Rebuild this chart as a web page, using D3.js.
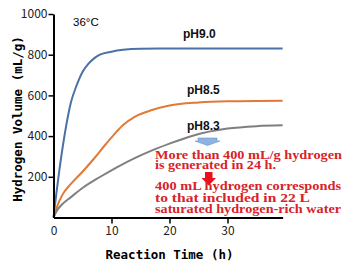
<!DOCTYPE html>
<html>
<head>
<meta charset="utf-8">
<script src="https://cdn.jsdelivr.net/npm/d3@7"></script>
<style>
  body { margin: 0; background: #fff; }
  svg { display: block; }
</style>
</head>
<body>
<script>
//hydrogen volume vs reaction time, three pH series

//pH9.0 series (time in h, volume in mL/g)
var t90 = [0, 0.5, 1, 2, 3, 4, 5, 6, 7, 8, 10, 12, 15, 20, 39.5];
var v90 = [0, 120, 230, 420, 565, 650, 715, 755, 782, 800, 815, 824, 829, 830, 830];

//pH8.5 series
var t85 = [0, 0.5, 1.5, 3, 5, 7, 9, 10.5, 12, 14, 17, 20, 25, 30, 39.5];
var v85 = [0, 45, 110, 165, 225, 290, 360, 410, 455, 495, 528, 550, 565, 571, 574];

//pH8.3 series
var t83 = [0, 0.5, 1.5, 3, 5, 8, 11, 14, 17, 20, 24, 30, 35, 39.5];
var v83 = [0, 30, 65, 100, 145, 199, 248, 292, 330, 363, 402, 437, 449, 453];

var seriesNames = ["pH9.0", "pH8.5", "pH8.3"];
var seriesColors = ["#4a72a6", "#e07a36", "#7f7f7f"];

var xTicks = [0, 10, 20, 30];
var yTicks = [200, 400, 600, 800, 1000];

var noteLines1 = ["More than 400 mL/g hydrogen", "is generated in 24 h."];
var noteLines2 = ["400 mL hydrogen corresponds", "to that included in 22 L", "saturated hydrogen-rich water"];

window.onload = function(){

    var w = 354, h = 272;

    var svg = d3.select("body")
        .append("svg")
        .attr("width", w)
        .attr("height", h)
        .style("background-color", "#fff");

    //scales
    var x = d3.scaleLinear()
        .domain([0, 39.5])
        .range([53.5, 282.6]);

    var y = d3.scaleLinear()
        .domain([0, 1000])
        .range([217.5, 14]);

    //build series table
    var series = [
        { name: seriesNames[0], color: seriesColors[0], pts: d3.zip(t90, v90) },
        { name: seriesNames[1], color: seriesColors[1], pts: d3.zip(t85, v85) },
        { name: seriesNames[2], color: seriesColors[2], pts: d3.zip(t83, v83) }
    ];

    var line = d3.line()
        .x(function(d){ return x(d[0]); })
        .y(function(d){ return y(d[1]); })
        .curve(d3.curveMonotoneX);

    svg.selectAll(".curve")
        .data(series)
        .enter()
        .append("path")
        .attr("class", "curve")
        .attr("d", function(d){ return line(d.pts); })
        .style("fill", "none")
        .style("stroke", function(d){ return d.color; })
        .style("stroke-width", 2);

    //axes
    var xAxis = d3.axisBottom(x)
        .tickValues(xTicks)
        .tickFormat(d3.format("d"))
        .tickSize(6)
        .tickSizeOuter(0)
        .tickPadding(3);

    var gx = svg.append("g")
        .attr("transform", "translate(0," + y(0) + ")")
        .call(xAxis);

    var yAxis = d3.axisLeft(y)
        .tickValues(yTicks)
        .tickFormat(d3.format("d"))
        .tickSize(5)
        .tickSizeOuter(0)
        .tickPadding(1);

    var gy = svg.append("g")
        .attr("transform", "translate(" + x(0) + ",0)")
        .call(yAxis);

    [gx, gy].forEach(function(g){
        g.select(".domain").style("stroke", "#000").style("stroke-width", 2);
        g.selectAll(".tick line").style("stroke", "#000").style("stroke-width", 1.5);
        g.selectAll(".tick text")
            .style("font-family", "'Noto Sans CJK JP', 'DejaVu Sans', sans-serif")
            .style("font-size", "12px")
            .style("fill", "#222");
    });
    //hide the 0 tick mark (covered by y axis)
    gx.selectAll(".tick line").filter(function(d){ return d === 0; }).remove();

    //axis titles
    svg.append("text")
        .attr("x", 169.5)
        .attr("y", 259)
        .attr("text-anchor", "middle")
        .style("font-family", "'DejaVu Sans Mono', monospace")
        .style("font-weight", "bold")
        .style("font-size", "12.5px")
        .text("Reaction Time (h)");

    svg.append("text")
        .attr("transform", "translate(22,119) rotate(-90)")
        .attr("text-anchor", "middle")
        .style("font-family", "'DejaVu Sans Mono', monospace")
        .style("font-weight", "bold")
        .style("font-size", "12.5px")
        .text("Hydrogen Volume (mL/g)");

    //temperature label
    svg.append("text")
        .attr("x", 73)
        .attr("y", 26)
        .style("font-family", "'Liberation Sans', Arial, sans-serif")
        .style("font-size", "11.5px")
        .text("36\u00B0C");

    //series labels
    var labelPos = [[183, 37.5], [187, 93.5], [187, 129.5]];
    svg.selectAll(".slabel")
        .data(series)
        .enter()
        .append("text")
        .attr("class", "slabel")
        .attr("x", function(d, i){ return labelPos[i][0]; })
        .attr("y", function(d, i){ return labelPos[i][1]; })
        .style("font-family", "'Liberation Sans', Arial, sans-serif")
        .style("font-weight", "bold")
        .style("font-size", "12px")
        .style("fill", "#111")
        .text(function(d){ return d.name; });

    //blue down arrow
    svg.append("path")
        .attr("d", "M198,138 L217,138 L217,141 L220,141 L207.5,145.5 L195,141 L198,141 Z")
        .style("fill", "#8db3e2")
        .style("stroke", "#6b93c9")
        .style("stroke-width", 0.6);

    //red down arrow
    svg.append("path")
        .attr("d", "M205,172 L212.5,172 L212.5,178 L216,178 L208.75,185.5 L201.5,178 L205,178 Z")
        .style("fill", "#e8121b");

    //red notes
    var red = "#d8232a";
    var noteFont = "'Liberation Serif', 'Times New Roman', serif";
    var note1Y = [158.5, 168.5];
    var note1W = [187, 121];
    svg.selectAll(".note1")
        .data(noteLines1)
        .enter()
        .append("text")
        .attr("class", "note1")
        .attr("x", 155)
        .attr("y", function(d, i){ return note1Y[i]; })
        .attr("textLength", function(d, i){ return note1W[i]; })
        .attr("lengthAdjust", "spacingAndGlyphs")
        .style("font-family", noteFont)
        .style("font-weight", "bold")
        .style("font-size", "12px")
        .style("fill", red)
        .text(function(d){ return d; });

    var note2Y = [190, 201.5, 213];
    var note2W = [186, 155, 186];
    svg.selectAll(".note2")
        .data(noteLines2)
        .enter()
        .append("text")
        .attr("class", "note2")
        .attr("x", 155)
        .attr("y", function(d, i){ return note2Y[i]; })
        .attr("textLength", function(d, i){ return note2W[i]; })
        .attr("lengthAdjust", "spacingAndGlyphs")
        .style("font-family", noteFont)
        .style("font-weight", "bold")
        .style("font-size", "12px")
        .style("fill", red)
        .text(function(d){ return d; });
};
</script>
</body>
</html>
